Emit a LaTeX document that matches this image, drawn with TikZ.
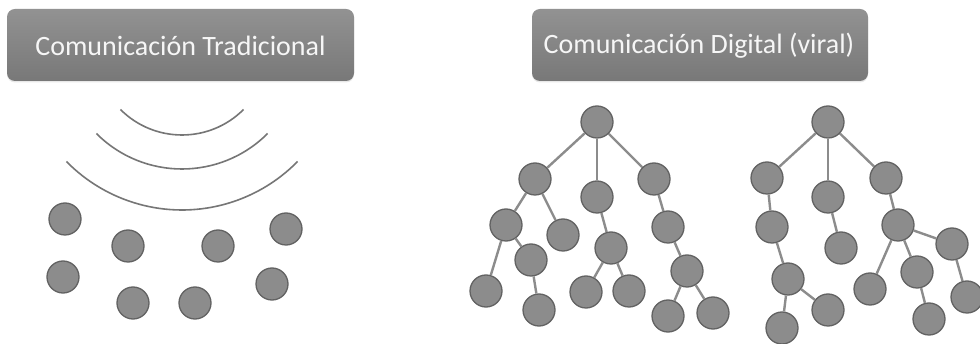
\documentclass[tikz,border=0pt]{standalone}
\usepackage{fontspec}
\setmainfont{Carlito}
\usetikzlibrary{shadows}
\definecolor{boxtop}{RGB}{146,146,146}
\definecolor{boxbot}{RGB}{120,120,120}
\definecolor{dotfill}{RGB}{140,140,140}
\definecolor{dotline}{RGB}{98,98,98}
\definecolor{edgecol}{RGB}{140,140,140}
\definecolor{wavecol}{RGB}{118,118,118}
\definecolor{labeltxt}{RGB}{246,246,246}
\begin{document}
\begin{tikzpicture}[x=1pt,y=-1pt,
  titlebox/.style={rounded corners=8pt, top color=boxtop, bottom color=boxbot, draw=none,
    drop shadow={opacity=0.18, shadow xshift=0pt, shadow yshift=-1.5pt}},
  titletext/.style={text=labeltxt, font=\fontsize{28}{30}\selectfont, inner sep=0pt},
  dot/.style={circle, minimum size=32pt, inner sep=0pt, fill=dotfill, draw=dotline, line width=1.3pt},
  link/.style={draw=edgecol, line width=2.4pt},
  wave/.style={draw=wavecol, line width=1.6pt}]
\useasboundingbox (0,0) rectangle (980,344);
\fill[white] (0,0) rectangle (980,344);

% title panels
\path[titlebox] (7,9) rectangle (354,81);
\node[titletext] (t1) at (180.5,46) {Comunicación Tradicional};
\path[titlebox] (532,9) rectangle (868,81);
\node[titletext] (t2) at (699,46) {Comunicación Digital (viral)};

% broadcast waves
\coordinate (src) at (182,48);
\draw[wave] ([shift={(135:87)}]src) arc[start angle=135, end angle=45, radius=87];
\draw[wave] ([shift={(135:121)}]src) arc[start angle=135, end angle=45, radius=121];
\draw[wave] ([shift={(135.5:162)}]src) arc[start angle=135.5, end angle=44.5, radius=162];

% audience
\node[dot] (a1) at (65,219) {};
\node[dot] (a2) at (128,246) {};
\node[dot] (a3) at (218,246) {};
\node[dot] (a4) at (286,229) {};
\node[dot] (a5) at (63,277) {};
\node[dot] (a6) at (133,303) {};
\node[dot] (a7) at (195,303) {};
\node[dot] (a8) at (272,284) {};

% first viral tree
\node[dot] (r) at (597,122) {};
\node[dot] (p1) at (535,179) {};
\node[dot] (p2) at (597,197) {};
\node[dot] (p3) at (654,179) {};
\node[dot] (p11) at (506,225) {};
\node[dot] (p12) at (563,235) {};
\node[dot] (p111) at (486,291) {};
\node[dot] (p112) at (531,260) {};
\node[dot] (p1121) at (539,310) {};
\node[dot] (p21) at (611,248) {};
\node[dot] (p211) at (586,292) {};
\node[dot] (p212) at (629,291) {};
\node[dot] (p31) at (668,227) {};
\node[dot] (p311) at (687,271) {};
\node[dot] (p3111) at (668,316) {};
\node[dot] (p3112) at (713,313) {};
\foreach \u/\v in {r/p1,r/p2,r/p3,p1/p11,p1/p12,p11/p111,p11/p112,p112/p1121,
  p2/p21,p21/p211,p21/p212,p3/p31,p31/p311,p311/p3111,p311/p3112}
  \draw[link] (\u) -- (\v);

% second viral tree
\node[dot] (s) at (828,122) {};
\node[dot] (q1) at (767,178) {};
\node[dot] (q2) at (828,197) {};
\node[dot] (q3) at (886,178) {};
\node[dot] (q11) at (772,227) {};
\node[dot] (q111) at (788,279) {};
\node[dot] (q1111) at (782,328) {};
\node[dot] (q1112) at (828,310) {};
\node[dot] (q21) at (841,248) {};
\node[dot] (q31) at (898,225) {};
\node[dot] (q311) at (870,289) {};
\node[dot] (q312) at (917,272) {};
\node[dot] (q3121) at (929,319) {};
\node[dot] (q313) at (952,244) {};
\node[dot] (q3131) at (967,297) {};
\foreach \u/\v in {s/q1,s/q2,s/q3,q1/q11,q11/q111,q111/q1111,q111/q1112,q2/q21,
  q3/q31,q31/q311,q31/q312,q312/q3121,q31/q313,q313/q3131}
  \draw[link] (\u) -- (\v);
\end{tikzpicture}
\end{document}
